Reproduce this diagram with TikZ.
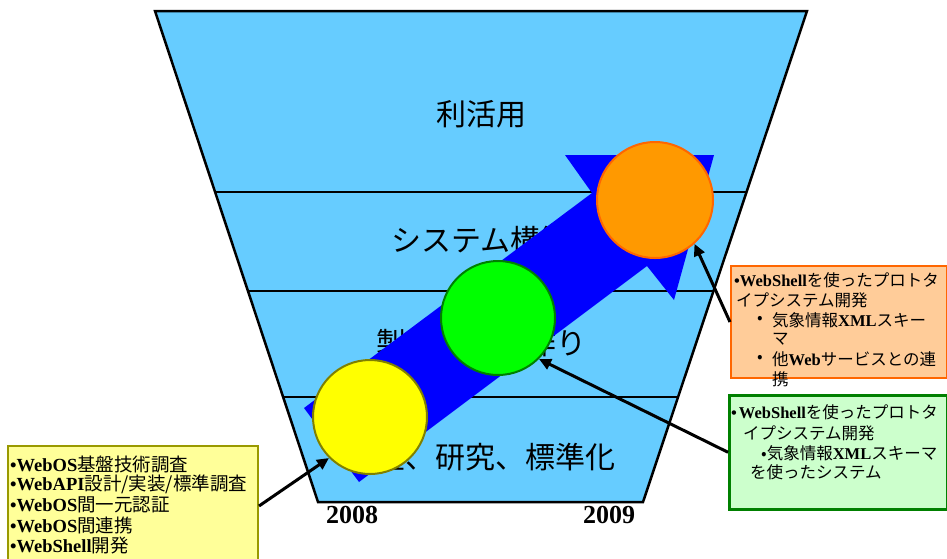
\documentclass[tikz,border=0pt]{standalone}
\usepackage{fontspec}
\setmainfont{Noto Sans CJK JP}
\newfontfamily\tnr{Liberation Serif}
\usetikzlibrary{arrows.meta,calc}
\definecolor{funnelc}{HTML}{66CCFF}
\definecolor{arrowc}{HTML}{0000FF}
\definecolor{ycirc}{HTML}{FFFF00}
\definecolor{ycircl}{HTML}{808000}
\definecolor{gcirc}{HTML}{00FF00}
\definecolor{gcircl}{HTML}{008000}
\definecolor{ocirc}{HTML}{FF9900}
\definecolor{ocircl}{HTML}{FF6600}
\definecolor{yboxf}{HTML}{FFFF99}
\definecolor{yboxl}{HTML}{999900}
\definecolor{oboxf}{HTML}{FFCC99}
\definecolor{oboxl}{HTML}{FF6600}
\definecolor{gboxf}{HTML}{CCFFCC}
\definecolor{gboxl}{HTML}{008000}
\newcommand\wbf[1]{{\tnr\bfseries #1}}
\tikzset{
  band/.style={inner sep=0pt, font=\fontsize{30}{36}\selectfont},
  yearlab/.style={inner sep=0pt, font=\tnr\bfseries\fontsize{26}{30}\selectfont},
  stage/.style={circle, inner sep=0pt, minimum size=114pt, line width=2pt},
  infobox/.style={anchor=north west, inner sep=0pt, line width=2pt},
  ptr/.style={line width=3pt, -{Triangle[length=12pt,width=11pt]}},
  ytxt/.style={anchor=west, inner sep=0pt, font=\fontsize{18.5}{21}\selectfont},
  btxt/.style={anchor=west, inner sep=0pt, font=\fontsize{16.5}{19}\selectfont},
}
\begin{document}
\begin{tikzpicture}[x=1pt,y=-1pt]
\clip (0,0) rectangle (947,558);
% funnel
\coordinate (tl) at (155,11);
\coordinate (tr) at (807,11);
\coordinate (br) at (643,502);
\coordinate (bl) at (318,502);
\draw[fill=funnelc, line width=2.5pt, line join=miter] (tl) -- (tr) -- (br) -- (bl) -- cycle;
\foreach \t in {0.3686,0.5703,0.7862}
  \draw[line width=1.2pt] ($(tl)!\t!(bl)$) -- ($(tr)!\t!(br)$);
% band labels
\node[band] (l1) at (481,114) {利活用};
\node[band] (l2) at (481,240) {システム構築};
\node[band] (l3) at (481,343) {製品・基盤作り};
\node[band] (l4) at (480,457) {調査、研究、標準化};
% big arrow
\fill[arrowc] (304,408) -- (592,193) -- (565,155) -- (714,155) -- (674,300) -- (647,266) -- (359,482) -- cycle;
% circles
\node[stage, fill=ycirc, draw=ycircl] (c1) at (370,417) {};
\node[stage, fill=gcirc, draw=gcircl] (c2) at (498,318) {};
\node[stage, fill=ocirc, draw=ocircl, minimum size=116pt] (c3) at (655,200) {};
% boxes
\node[infobox, fill=yboxf, draw=yboxl, minimum width=250pt, minimum height=120pt] (yb) at (7,445) {};
\node[infobox, fill=oboxf, draw=oboxl, minimum width=216pt, minimum height=112pt] (ob) at (730,265) {};
\node[infobox, fill=gboxf, draw=gboxl, line width=2.5pt, minimum width=218pt, minimum height=114pt] (gb) at (728,394) {};
% pointers
\draw[ptr] (yb.east) -- (c1.225);
\draw[ptr] (gb.west) -- (c2.315);
\draw[ptr] (ob.west) -- (c3.312);
% yellow box text
\node[ytxt] (y1) at (10,464) {\wbf{•WebOS}基盤技術調査};
\node[ytxt] (y2) at (10,484.5) {\wbf{•WebAPI}設計/実装/標準調査};
\node[ytxt] (y3) at (10,505) {\wbf{•WebOS}間一元認証};
\node[ytxt] (y4) at (10,525.5) {\wbf{•WebOS}間連携};
\node[ytxt] (y5) at (10,546) {\wbf{•WebShell}開発};
% orange box text
\node[btxt] (o1) at (734,280) {\wbf{•WebShell}を使ったプロトタ};
\node[btxt] (o2) at (736,300) {イプシステム開発};
\node[btxt] (o3b) at (757,320) {•};
\node[btxt] (o3) at (772,320) {気象情報\wbf{XML}スキー};
\node[btxt] (o4) at (772,339) {マ};
\node[btxt] (o5b) at (757,359) {•};
\node[btxt] (o5) at (772,359) {他\wbf{Web}サービスとの連};
\node[btxt] (o6) at (772,379) {携};
% green box text
\node[btxt] (g1) at (731,412) {\wbf{•\hspace{2pt}WebShell}を使ったプロトタ};
\node[btxt] (g2) at (743,433) {イプシステム開発};
\node[btxt] (g3) at (761,453) {•気象情報\wbf{XML}スキーマ};
\node[btxt] (g4) at (750,472) {を使ったシステム};
% years
\node[yearlab] (yr1) at (352,515) {2008};
\node[yearlab] (yr2) at (609,515) {2009};
\end{tikzpicture}
\end{document}
